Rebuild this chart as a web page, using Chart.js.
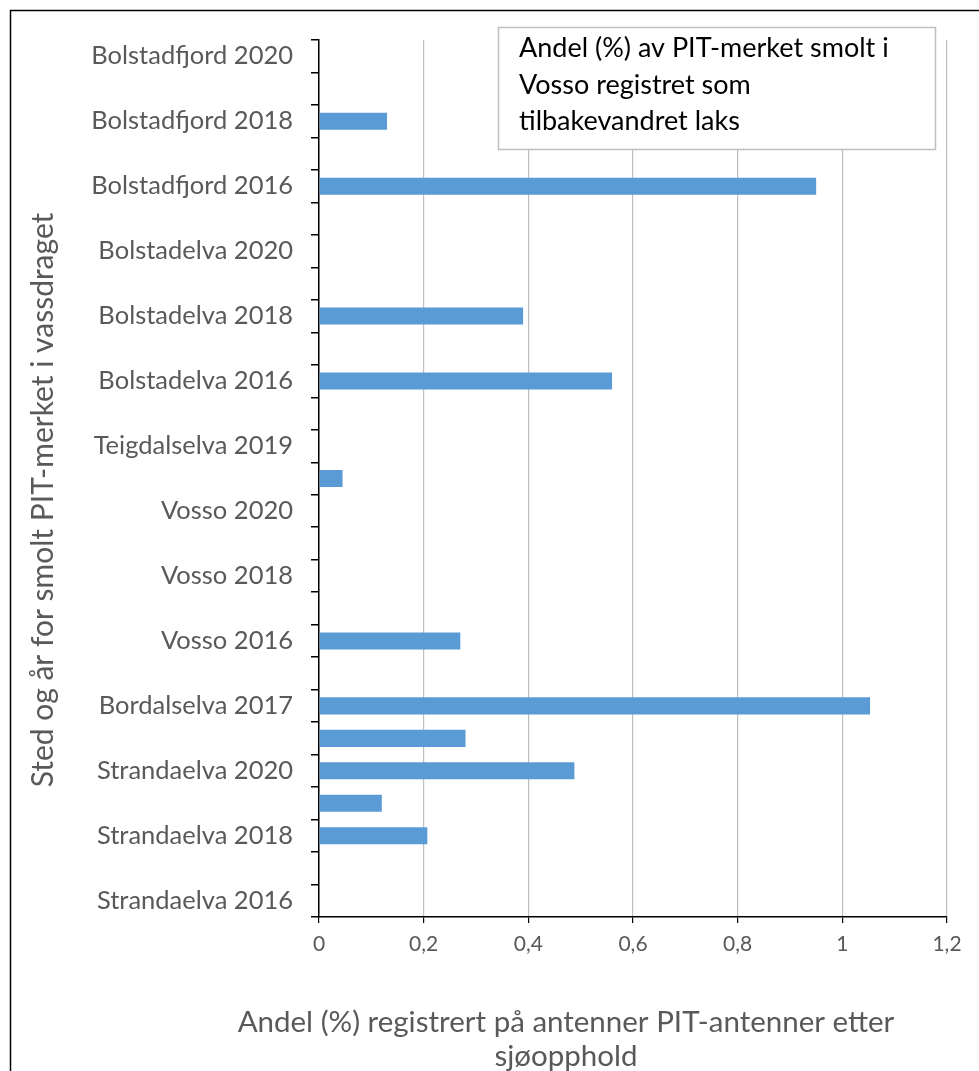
<!DOCTYPE html>
<html lang="no">
<head>
<meta charset="utf-8">
<title>Andel PIT-merket smolt registrert som tilbakevandret laks</title>
<script src="https://cdn.jsdelivr.net/npm/chart.js@4.4.1/dist/chart.umd.min.js"></script>
<style>
  html, body { margin: 0; padding: 0; background: #fff; }
  canvas { display: block; }
</style>
</head>
<body>
<canvas id="chart" width="979" height="1071"></canvas>
<script>
// Sted og år, øverst til nederst (hver andre etikett vises på aksen)
const stederAar = [
  'Bolstadfjord 2020', 'Bolstadfjord 2019', 'Bolstadfjord 2018', 'Bolstadfjord 2017',
  'Bolstadfjord 2016', 'Bolstadfjord 2015', 'Bolstadelva 2020', 'Bolstadelva 2019',
  'Bolstadelva 2018', 'Bolstadelva 2017', 'Bolstadelva 2016', 'Teigdalselva 2020',
  'Teigdalselva 2019', 'Teigdalselva 2018', 'Vosso 2020', 'Vosso 2019',
  'Vosso 2018', 'Vosso 2017', 'Vosso 2016', 'Bordalselva 2018',
  'Bordalselva 2017', 'Bordalselva 2016', 'Strandaelva 2020', 'Strandaelva 2019',
  'Strandaelva 2018', 'Strandaelva 2017', 'Strandaelva 2016'
];

// Andel (%) registrert på PIT-antenner etter sjøopphold
const andelRegistrert = [
  0, 0, 0.13, 0,
  0.95, 0, 0, 0,
  0.39, 0, 0.56, 0,
  0, 0.045, 0, 0,
  0, 0, 0.27, 0,
  1.053, 0.28, 0.488, 0.12,
  0.207, 0, 0
];

const xTicks = [0, 0.2, 0.4, 0.6, 0.8, 1, 1.2];

const tekstboks = [
  'Andel (%) av PIT-merket smolt i',
  'Vosso registret som',
  'tilbakevandret laks'
];
const yTittel = 'Sted og år for smolt PIT-merket i vassdraget';
const xTittel = [
  'Andel (%) registrert på antenner PIT-antenner etter',
  'sjøopphold'
];

const FONT = 'Lato, "Open Sans", sans-serif';
const GRAA = '#595959';

// ramme, aksetitler og tekstboks tegnes direkte på lerretet
const ekstra = {
  id: 'ekstra',
  beforeDraw(chart) {
    const ctx = chart.ctx;
    ctx.save();
    ctx.fillStyle = '#fff';
    ctx.fillRect(0, 0, chart.width, chart.height);
    ctx.strokeStyle = '#000';
    ctx.lineWidth = 1.5;
    ctx.beginPath();
    ctx.moveTo(10.5, chart.height);
    ctx.lineTo(10.5, 10.5);
    ctx.lineTo(chart.width, 10.5);
    ctx.stroke();
    ctx.restore();
  },
  afterDraw(chart) {
    const ctx = chart.ctx;
    ctx.save();

    // y-aksetittel
    ctx.fillStyle = GRAA;
    ctx.font = '30px ' + FONT;
    ctx.textAlign = 'center';
    ctx.textBaseline = 'middle';
    ctx.translate(43, 500);
    ctx.rotate(-Math.PI / 2);
    ctx.fillText(yTittel, 0, 0);
    ctx.setTransform(1, 0, 0, 1, 0, 0);

    // x-aksetittel
    ctx.font = '29.5px ' + FONT;
    ctx.textBaseline = 'alphabetic';
    ctx.fillText(xTittel[0], 566, 1032);
    ctx.fillText(xTittel[1], 566, 1066);

    // tekstboks øverst til høyre
    ctx.fillStyle = '#fff';
    ctx.fillRect(498, 27, 438, 123);
    ctx.strokeStyle = '#bfbfbf';
    ctx.lineWidth = 1.5;
    ctx.strokeRect(498.5, 27.5, 437, 122);
    ctx.fillStyle = '#000';
    ctx.font = '27px ' + FONT;
    ctx.textAlign = 'left';
    tekstboks.forEach((linje, i) => ctx.fillText(linje, 519, 57 + i * 36.5));

    ctx.restore();
  }
};

new Chart(document.getElementById('chart'), {
  type: 'bar',
  data: {
    labels: stederAar,
    datasets: [{
      data: andelRegistrert,
      backgroundColor: '#5b9bd5',
      borderWidth: 0,
      barPercentage: 0.525,
      categoryPercentage: 1
    }]
  },
  options: {
    indexAxis: 'y',
    responsive: false,
    animation: false,
    layout: { padding: { left: 0, top: 40, right: 32, bottom: 104 } },
    plugins: {
      legend: { display: false },
      tooltip: { enabled: false }
    },
    scales: {
      x: {
        type: 'linear',
        min: 0,
        max: 1.2,
        afterBuildTicks: (scale) => { scale.ticks = xTicks.map(v => ({ value: v })); },
        afterFit: (scale) => { scale.height = 50; },
        ticks: {
          callback: (v) => String(v).replace('.', ','),
          color: GRAA,
          font: { family: FONT, size: 21 },
          padding: 9,
          maxRotation: 0
        },
        grid: {
          color: '#bfbfbf',
          lineWidth: 1.2,
          tickColor: '#000',
          tickLength: 6
        },
        border: { color: '#000', width: 1.5 }
      },
      y: {
        type: 'category',
        offset: true,
        afterFit: (scale) => { scale.width = 319; },
        ticks: {
          autoSkip: false,
          callback: function (v, i) { return i % 2 === 0 ? this.getLabelForValue(v) : ''; },
          color: GRAA,
          font: { family: FONT, size: 25.5 },
          padding: 18
        },
        grid: {
          offset: true,
          drawOnChartArea: false,
          color: '#000',
          lineWidth: 1.5,
          tickLength: 8
        },
        border: { color: '#000', width: 1.5 }
      }
    }
  },
  plugins: [ekstra]
});
</script>
</body>
</html>
